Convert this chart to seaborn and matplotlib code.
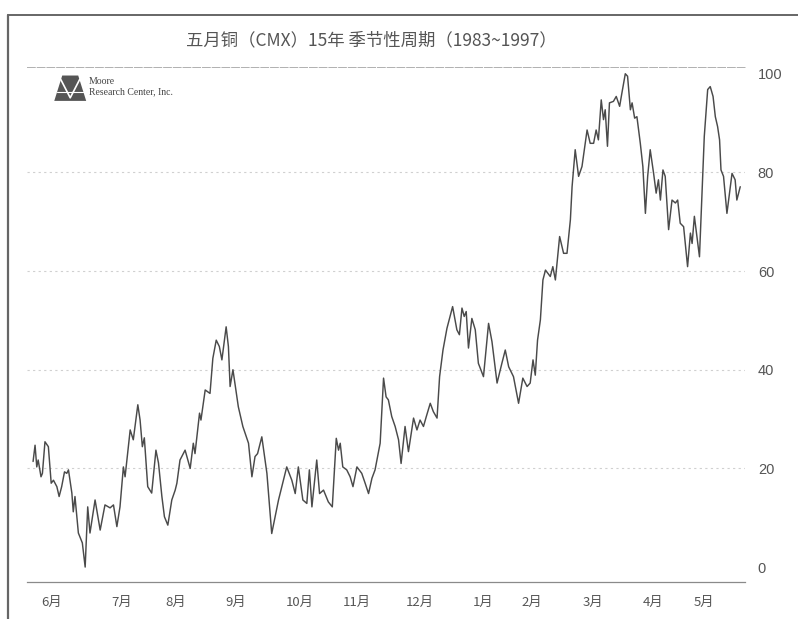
import seaborn as sns
import matplotlib.pyplot as plt
import pandas as pd
from matplotlib.lines import Line2D
from matplotlib.patches import Polygon

# Seasonal index readings (trading day from start of June, index value 0-100)
day = [
    0.0, 0.7, 1.3, 1.8, 2.8, 3.3, 4.2, 5.4, 6.4, 7.2, 8.4, 9.2, 10.1, 11.1, 11.9,
    12.5, 13.7, 14.2, 14.8, 16.0, 17.4, 18.4, 19.3, 20.1, 21.9, 23.7, 25.4, 27.2,
    28.4, 29.6, 30.7, 31.9, 32.5, 34.3, 35.4, 37.0, 37.8, 38.6, 39.3, 40.5, 41.9,
    43.4, 44.3, 45.5, 46.4, 47.6, 49.0, 50.2, 50.8, 51.9, 53.7, 55.5, 56.6, 57.2,
    58.8, 59.3, 60.8, 62.5, 63.5, 64.7, 65.8, 66.7, 68.2, 69.0, 69.6, 70.6, 72.5,
    74.1, 76.1, 77.3, 78.4, 79.3, 80.8, 82.6, 84.3, 85.5, 86.7, 89.6, 91.4, 92.6,
    93.7, 95.3, 96.7, 97.6, 98.5, 100.2, 101.2, 102.6, 104.3, 105.7, 107.1, 107.9,
    108.5, 109.4, 110.8, 112.0, 113.0, 114.4, 116.1, 117.3, 118.5, 119.7, 120.8,
    122.6, 123.8, 124.7, 125.5, 126.7, 127.9, 129.1, 130.0, 131.4, 132.6, 134.4,
    135.6, 136.7, 137.9, 138.9, 140.3, 141.4, 142.7, 143.6, 144.8, 146.2, 148.2,
    149.7, 150.6, 151.5, 152.3, 153.0, 153.8, 155.0, 156.2, 157.3, 159.1, 160.9,
    162.1, 163.9, 165.6, 166.8, 168.0, 169.7, 171.5, 173.0, 174.5, 175.6, 176.6,
    177.4, 178.2, 179.2, 180.1, 181.0, 182.7, 183.6, 184.5, 186.0, 187.4, 188.6,
    189.8, 190.4, 191.5, 192.7, 193.9, 195.7, 196.8, 198.0, 198.9, 199.7, 200.7,
    201.5, 202.1, 202.9, 203.6, 205.0, 206.0, 207.2, 208.0, 209.2, 210.0, 211.0,
    211.6, 212.5, 213.3, 214.5, 215.4, 216.3, 217.1, 218.0, 219.2, 220.1, 220.9,
    221.6, 222.5, 223.3, 224.5, 225.7, 226.9, 227.7, 228.6, 229.8, 231.2, 232.2,
    232.8, 233.6, 234.5, 235.4, 236.3, 237.1, 238.3, 239.2, 240.2, 241.0, 241.8,
    242.5, 243.0, 243.9, 245.1, 246.0, 246.9, 248.0, 248.6, 249.8,
]
index_value = [
    21.4, 24.7, 20.3, 21.7, 18.3, 19.0, 25.4, 24.4, 17.0, 17.6, 16.3, 14.3, 16.3, 19.3, 19.0,
    19.7, 15.0, 11.2, 14.3, 6.9, 4.9, 0.0, 12.2, 6.9, 13.6, 7.5, 12.6, 12.0,
    12.6, 8.2, 12.2, 20.3, 18.3, 27.8, 25.8, 32.9, 29.8, 24.4, 26.2, 16.3, 15.0,
    23.7, 21.1, 14.3, 10.2, 8.5, 13.6, 15.6, 17.0, 21.7, 23.7, 20.0, 25.1, 23.0,
    31.2, 29.8, 35.9, 35.2, 42.3, 46.0, 44.7, 42.0, 48.7, 44.7, 36.6, 40.0, 32.5,
    28.5, 25.1, 18.3, 22.4, 23.0, 26.4, 19.0, 6.8, 10.2, 13.6, 20.3, 17.6, 14.9,
    20.3, 13.6, 12.9, 19.7, 12.2, 21.7, 14.9, 15.6, 13.2, 12.2, 26.1, 23.7,
    25.1, 20.3, 19.7, 18.3, 16.3, 20.3, 19.0, 17.0, 14.9, 18.0, 19.7,
    25.1, 38.3, 34.5, 33.9, 30.5, 28.5, 25.8, 21.0, 28.5, 23.4, 30.2,
    27.8, 29.8, 28.5, 30.5, 33.2, 31.5, 30.2, 38.6, 44.0, 48.4, 52.8,
    48.1, 47.1, 52.5, 50.8, 51.8, 44.4, 50.4, 48.1, 41.3, 38.6, 49.4,
    45.7, 37.3, 41.3, 44.0, 40.6, 38.6, 33.2, 38.3, 36.6, 37.3, 42.0,
    38.9, 46.0, 50.1, 58.2, 60.2, 58.9, 60.9, 58.2, 67.0, 63.6, 63.6,
    70.4, 77.1, 84.6, 79.2, 81.2, 88.6, 85.9, 85.9, 88.6, 86.6, 94.7,
    90.7, 92.7, 85.3, 94.1, 94.4, 95.4, 93.4, 96.1, 100.0, 99.5, 92.7,
    94.1, 91.0, 91.3, 85.9, 81.2, 71.7, 79.2, 84.6, 79.8, 75.8, 78.5,
    74.4, 80.5, 79.2, 68.4, 74.4, 73.8, 74.4, 69.7, 69.0, 60.9, 67.7,
    65.6, 71.1, 67.0, 62.9, 75.8, 87.3, 96.8, 97.4, 95.4, 91.3, 89.3,
    86.6, 80.5, 79.2, 71.7, 75.8, 79.8, 78.5, 74.4, 77.1,
]

month_labels = ["6月", "7月", "8月", "9月", "10月", "11月", "12月",
                "1月", "2月", "3月", "4月", "5月"]
month_pos = [6.7, 31.1, 50.5, 71.4, 94.3, 114.5, 136.7, 159.0, 176.0, 197.9, 219.1, 237.1]
y_ticks = [0, 20, 40, 60, 80, 100]

df = pd.DataFrame({"day": day, "value": index_value})

sns.set_style("white")
plt.rcParams["font.family"] = ["Noto Sans CJK SC", "DejaVu Sans"]

fig = plt.figure(figsize=(7.98, 6.19), dpi=100)
ax = fig.add_axes([0.034, 0.060, 0.900, 0.832])

sns.lineplot(data=df, x="day", y="value", ax=ax, color="#4a4a4a", linewidth=1.05)

ax.set_xlim(-2.1, 251.6)
ax.set_ylim(-3.0, 101.4)

# faint dotted gridlines
for v in [20, 40, 60, 80]:
    ax.axhline(v, color="#d0d0d0", linestyle=(0, (2, 3)), linewidth=0.8, zorder=0)

ax.yaxis.tick_right()
ax.set_yticks(y_ticks)
ax.set_yticklabels([str(v) for v in y_ticks], family=["Liberation Sans"],
                   fontsize=10.5, color="#555555")
ax.set_xticks(month_pos)
ax.set_xticklabels(month_labels, fontsize=9.5, color="#555555")
ax.tick_params(axis="y", length=0, pad=9)
ax.tick_params(axis="x", length=0, pad=10)
ax.set_xlabel("")
ax.set_ylabel("")

for side in ["left", "right"]:
    ax.spines[side].set_visible(False)
ax.spines["top"].set_color("#b0b0b0")
ax.spines["top"].set_linestyle((0, (8, 2)))
ax.spines["top"].set_linewidth(0.7)
ax.spines["bottom"].set_color("#8a8a8a")
ax.spines["bottom"].set_linewidth(0.9)

# title
fig.text(0.466, 0.935, "五月铜（CMX）15年 季节性周期（1983~1997）",
         ha="center", va="center", fontsize=12.5, color="#555555")

# outer frame
fig.add_artist(Line2D([0.010, 0.010], [0.0, 0.976], color="#666666", linewidth=1.6))
fig.add_artist(Line2D([0.010, 1.0], [0.976, 0.976], color="#666666", linewidth=1.4))

# Moore Research logo
logo = Polygon([[0.068, 0.837], [0.078, 0.878], [0.098, 0.878], [0.108, 0.837]],
               closed=True, transform=fig.transFigure, facecolor="#555555",
               edgecolor="none")
fig.add_artist(logo)
fig.add_artist(Line2D([0.076, 0.088, 0.100], [0.872, 0.842, 0.872],
                      color="white", linewidth=1.2))
fig.add_artist(Line2D([0.072, 0.104], [0.852, 0.852], color="white", linewidth=0.8))
fig.text(0.111, 0.868, "Moore", fontsize=7, family="Liberation Serif",
         color="#444444", va="center")
fig.text(0.111, 0.851, "Research Center, Inc.", fontsize=7, family="Liberation Serif",
         color="#444444", va="center")

fig.savefig("out.png", dpi=100, facecolor="white")
